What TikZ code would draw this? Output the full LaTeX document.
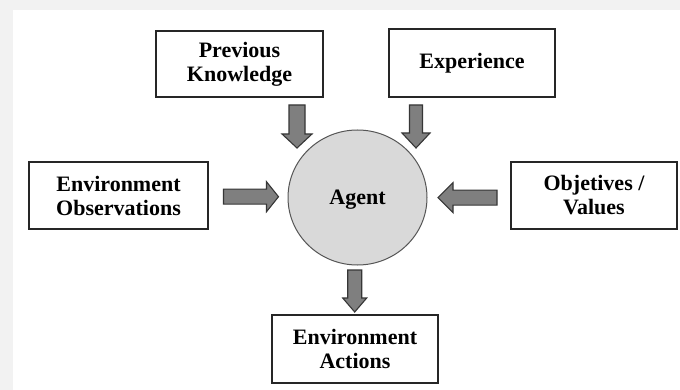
\documentclass[tikz,border=0pt]{standalone}
\usepackage{fontspec}
\setmainfont{Liberation Serif}
\usetikzlibrary{shapes.geometric}

\definecolor{pagegray}{HTML}{F2F2F2}
\definecolor{agentfill}{HTML}{D9D9D9}
\definecolor{agentline}{HTML}{555555}
\definecolor{arrowfill}{HTML}{7F7F7F}
\definecolor{arrowline}{HTML}{363636}

\tikzset{
  x=1pt, y=-1pt,
  labelbox/.style={draw=black!85, line width=1.2pt, fill=white, align=center,
    inner sep=0pt, font=\bfseries\fontsize{22}{24}\selectfont},
  agentnode/.style={ellipse, draw=agentline, line width=1pt, fill=agentfill,
    inner sep=0pt, text depth=0pt, font=\bfseries\fontsize{22}{24}\selectfont},
  % block arrow pointing along +x, tail at the pic origin
  arrowlen/.store in=\arrowlen, arrowlen=43,
  headlen/.store in=\headlen, headlen=14,
  shafthalf/.store in=\shafthalf, shafthalf=7.5,
  headhalf/.store in=\headhalf, headhalf=14.5,
  blockarrow/.pic={
    \draw[fill=arrowfill, draw=arrowline, line width=1.1pt, line join=miter]
      (0,-\shafthalf) -- ({\arrowlen-\headlen},-\shafthalf)
      -- ({\arrowlen-\headlen},-\headhalf) -- (\arrowlen,0)
      -- ({\arrowlen-\headlen},\headhalf) -- ({\arrowlen-\headlen},\shafthalf)
      -- (0,\shafthalf) -- cycle;
  }
}

\begin{document}
\begin{tikzpicture}
  % page background with its lighter drawing area
  \fill[pagegray] (0,0) rectangle (680,390);
  \fill[white] (12.7,9.7) rectangle (680,390);
  \useasboundingbox (0,0) rectangle (680,390);

  % input and output boxes
  \node[labelbox, minimum width=167, minimum height=66] (knowledge) at (239.5,64) {Previous\\Knowledge};
  \node[labelbox, minimum width=166, minimum height=68] (experience) at (472,63) {\raisebox{3pt}{Experience}};
  \node[labelbox, minimum width=179, minimum height=67] (observations) at (118.5,195.5) {Environment\\Observations};
  \node[labelbox, minimum width=166, minimum height=67] (objectives) at (594,195.5) {Objetives /\\Values};
  \node[labelbox, minimum width=166, minimum height=68] (actions) at (355,349) {Environment\\Actions};

  % the agent
  \node[agentnode, minimum width=139, minimum height=135] (agent) at (357.5,197.5) {Agent};

  % block arrows towards and away from the agent
  \pic[rotate=-90, arrowlen=43, headlen=14, shafthalf=8, headhalf=15] at (297,105) {blockarrow};
  \pic[rotate=-90, arrowlen=43, headlen=15, shafthalf=6.5, headhalf=14] at (416,105) {blockarrow};
  \pic[arrowlen=55, headlen=12, shafthalf=7.5, headhalf=15] at (223.5,196.7) {blockarrow};
  \pic[rotate=180, arrowlen=59, headlen=15, shafthalf=7.5, headhalf=15] at (497,197.7) {blockarrow};
  \pic[rotate=-90, arrowlen=42, headlen=14, shafthalf=7, headhalf=12] at (354.7,270) {blockarrow};
\end{tikzpicture}
\end{document}
